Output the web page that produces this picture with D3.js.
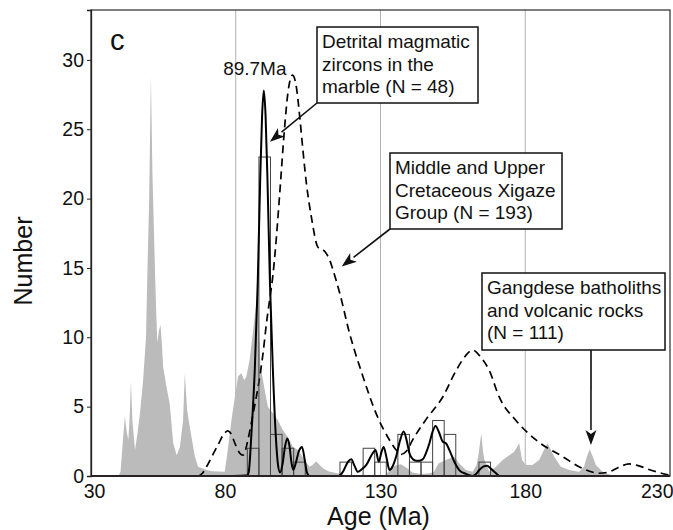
<!DOCTYPE html>
<html>
<head>
<meta charset="utf-8">
<script src="https://cdn.jsdelivr.net/npm/d3@7/dist/d3.min.js"></script>
<style>
  html, body { margin: 0; padding: 0; background: #fff; }
  svg { display: block; font-family: "Liberation Sans", Arial, sans-serif; }
</style>
</head>
<body>
<svg id="chart" width="673" height="530"></svg>
<script>
// Axis ticks
const xTicks = [30, 80, 130, 180, 230];
const yTicks = [0, 5, 10, 15, 20, 25, 30];
const gridAges = [80, 130, 180];

// Histogram of detrital magmatic zircon ages (4 Ma bins)
const binWidth = 4;
const binStarts = [84, 88, 92, 96, 100, 116, 124, 128, 136, 140, 144, 148, 152, 164];
const binCounts = [2, 23, 3, 2, 1, 1, 2, 1, 3, 1, 1, 4, 3, 1];

// Probability curve of the marble zircons: [age, value]
const marbleCurve = [
  [79, 0], [84, 0.05], [84.5, 0.3], [85.4, 3.0], [86.6, 7.8], [87.6, 14], [88.4, 21], [89.1, 26],
  [89.7, 27.8], [90.3, 26], [91.0, 21], [91.8, 14], [92.8, 7.8], [93.8, 3], [94.6, 0.8], [95.3, 0.25],
  [96.2, 0.9], [97, 2.1], [97.8, 2.7], [98.6, 2.1], [99.3, 0.9], [99.9, 0.45], [100.7, 0.9],
  [101.8, 1.8], [102.9, 2.1], [103.8, 1.2], [104.6, 0.25], [105.5, 0], [115.5, 0], [117, 0.3],
  [118.7, 1.0], [119.9, 1.2], [121, 0.75], [122.2, 0.3], [123.6, 0.5], [125.1, 0.8], [127.3, 1.64],
  [128.3, 1.87], [129.4, 1.03], [130.3, 1.7], [131.1, 2.1], [132.1, 1.3], [133.1, 0.43], [134.2, 0.7],
  [135.4, 1.4], [136.8, 2.6], [138, 3.2], [139, 2.6], [140, 1.64], [141.2, 1.2], [142.3, 1.1],
  [143.5, 1.1], [144.6, 1.2], [145.8, 1.7], [146.9, 2.36], [148, 3.2], [149, 3.6], [150.3, 3.1],
  [151.5, 2.47], [152.6, 2.36], [153.8, 1.87], [155.5, 1.03], [157.2, 0.43], [159.5, 0.15],
  [161.8, 0], [163, 0.15], [164.1, 0.43], [165.5, 0.68], [166.8, 0.74], [168, 0.55], [169.3, 0.3],
  [171, 0]
];

// Xigaze Group probability curve: [age, value]
const xigazeCurve = [
  [40, 0], [67, 0], [68.5, 0.2], [70, 0.7], [72, 1.5], [74, 2.3], [75.8, 3.0], [77.3, 3.25],
  [78.5, 3.0], [79.7, 2.36], [81.4, 1.64], [82.5, 1.5], [83.4, 1.9], [84.2, 2.6], [86, 4.5],
  [87.7, 6.4], [89.4, 8.8], [90.6, 11.0], [91.7, 12.7], [92.9, 14.6], [93.8, 16.6], [95.2, 20.4],
  [96.9, 25.2], [98, 27.6], [99.6, 28.9], [100.9, 28.1], [102.1, 25.9], [103.2, 23.5], [104.4, 21.1],
  [106.1, 18.7], [108.4, 16.5], [110.7, 16.2], [112.4, 15.6], [113.6, 14.85], [115.9, 13.2],
  [119.3, 10.3], [123.9, 7.2], [128.5, 4.5], [133.1, 2.6], [135.4, 1.87], [137, 1.55], [139, 1.8],
  [141.1, 2.6], [145.8, 4.1], [151.5, 5.7], [156.1, 7.6], [159.5, 8.7], [161.8, 9.08], [164.5, 8.6],
  [167.6, 7.6], [171, 5.7], [176.8, 4.0], [183.7, 2.6], [192.9, 1.4], [199.8, 0.55], [205.5, 0.2],
  [209, 0.3], [212, 0.6], [215.9, 0.87], [219, 0.75], [223, 0.45], [230, 0.05]
];

// Gangdese batholiths and volcanic rocks: [age, value]
const gangdeseCurve = [
  [39.5, 0], [40.2, 0.3], [41, 2.5], [41.7, 4.3], [42.3, 3.2], [42.9, 2.6], [43.4, 4.5], [43.8, 6.8],
  [44.3, 4.0], [45.2, 1.87], [46, 3.0], [46.9, 4.5], [48, 6.9], [49, 10.0], [49.5, 14.8], [50.1, 20],
  [50.7, 28.8], [51.2, 22], [52.1, 14.8], [52.5, 12], [52.9, 9.6], [53.5, 10.5], [54.0, 10.9],
  [54.5, 9.5], [54.9, 7.9], [56.1, 6.4], [57.2, 5.2], [58.4, 2.36], [59.6, 1.5], [60.7, 2.1],
  [61.8, 4.0], [62.4, 7.4], [63.2, 4.76], [64.1, 3.55], [65.9, 1.39], [67, 0.67], [69.9, 0.43],
  [72, 0.35], [76.2, 0.3], [77, 1.5], [78.5, 4.0], [79.7, 5.7], [80.8, 7.2], [82, 7.4], [82.9, 6.9],
  [83.7, 7.2], [84.8, 8.4], [86, 10.5], [87.1, 12.45], [87.7, 12.5], [88.5, 8], [90, 6.2],
  [91.1, 5.0], [92.9, 4.5], [94.6, 4.0], [96.3, 3.3], [98, 2.8], [99.8, 2.1], [101.5, 1.87],
  [103.8, 1.15], [105.5, 0.67], [106.5, 0.8], [107.8, 1.05], [109, 0.8], [110.1, 0.55], [112, 0.35],
  [115, 0.2], [118, 0.05], [120, 0], [131.5, 0], [133, 0.4], [135, 0.75], [137, 0.85], [139, 0.6],
  [141, 0.25], [144, 0.15], [147, 0.2], [148.5, 0.3], [150, 0.9], [152, 1.1], [155.5, 1.4],
  [157.2, 0.9], [159.5, 0.43], [161.8, 0.3], [163.2, 0.8], [163.9, 1.6], [164.8, 3.08], [165.4, 1.8],
  [165.9, 1.15], [167.6, 0.3], [169.9, 0.67], [172.2, 1.15], [174.5, 1.5], [176.2, 1.75],
  [177.9, 2.36], [178.9, 1.15], [180.2, 0.8], [182.5, 0.8], [184.8, 1.15], [186.5, 1.9],
  [187.7, 2.36], [190, 1.39], [192.3, 0.67], [195.2, 0.43], [198.6, 0.3], [200.3, 0.67],
  [201.3, 1.4], [202.3, 1.92], [203.3, 1.4], [204.4, 0.8], [206.7, 0.3], [209, 0.1], [211.3, 0]
];

const peakAge = 89.7;
const peakValue = 27.8;

const svg = d3.select("#chart");
const plot = { left: 91, top: 10, right: 670, bottom: 476 };

const x = d3.scaleLinear().domain([30, 230]).range([plot.left, plot.right]);
const y = d3.scaleLinear().domain([0, 33.6]).range([plot.bottom, plot.top]);

// Vertical grid lines
svg.append("g")
  .selectAll("line")
  .data(gridAges)
  .join("line")
  .attr("x1", d => x(d)).attr("x2", d => x(d))
  .attr("y1", plot.top).attr("y2", plot.bottom)
  .attr("stroke", "#b0b0b0").attr("stroke-width", 1);

// Gangdese age distribution (filled)
svg.append("path")
  .datum(gangdeseCurve)
  .attr("fill", "#bbbbbb")
  .attr("d", d3.area().x(d => x(d[0])).y0(y(0)).y1(d => y(d[1])).curve(d3.curveLinear));

// Xigaze Group curve (dashed)
svg.append("path")
  .datum(xigazeCurve)
  .attr("fill", "none")
  .attr("stroke", "#000")
  .attr("stroke-width", 1.7)
  .attr("stroke-dasharray", "8,5")
  .attr("d", d3.line().x(d => x(d[0])).y(d => y(d[1])).curve(d3.curveMonotoneX));

// Histogram bars
const bins = binStarts.map((s, i) => ({ start: s, count: binCounts[i] }));
svg.append("g")
  .selectAll("rect")
  .data(bins)
  .join("rect")
  .attr("x", d => x(d.start))
  .attr("width", d => x(d.start + binWidth) - x(d.start))
  .attr("y", d => y(d.count))
  .attr("height", d => y(0) - y(d.count))
  .attr("fill", "none")
  .attr("stroke", "#444")
  .attr("stroke-width", 1);

// Marble zircon probability curve
svg.append("path")
  .datum(marbleCurve)
  .attr("fill", "none")
  .attr("stroke", "#000")
  .attr("stroke-width", 2)
  .attr("stroke-linejoin", "round")
  .attr("d", d3.line().x(d => x(d[0])).y(d => y(d[1])).curve(d3.curveMonotoneX));

// Frame
svg.append("rect")
  .attr("x", plot.left).attr("y", plot.top)
  .attr("width", plot.right - plot.left).attr("height", plot.bottom - plot.top)
  .attr("fill", "none").attr("stroke", "#3a3a3a").attr("stroke-width", 1.3);
svg.append("line")
  .attr("x1", plot.left).attr("x2", plot.right)
  .attr("y1", plot.bottom).attr("y2", plot.bottom)
  .attr("stroke", "#2a2222").attr("stroke-width", 2);

// Y axis
const yAxis = svg.append("g")
  .attr("transform", `translate(${plot.left},0)`)
  .call(d3.axisLeft(y).tickValues(yTicks).tickSize(4).tickPadding(3));
yAxis.select(".domain").attr("stroke", "#222").attr("stroke-width", 1.3);
yAxis.selectAll(".tick line").attr("stroke", "#222");
yAxis.selectAll(".tick text")
  .attr("font-size", "19.5px").attr("fill", "#111")
  .attr("font-family", "'Liberation Sans', Arial, sans-serif");

// X axis labels
const endAnchored = new Set([80, 230]);
const xAxis = svg.append("g")
  .attr("transform", `translate(0,${plot.bottom})`)
  .call(d3.axisBottom(x).tickValues(xTicks).tickSize(0).tickPadding(8));
xAxis.select(".domain").remove();
xAxis.selectAll(".tick text")
  .attr("font-size", "19.5px").attr("fill", "#111")
  .attr("font-family", "'Liberation Sans', Arial, sans-serif")
  .attr("text-anchor", d => endAnchored.has(d) ? "end" : "middle")
  .attr("dx", d => d === 30 ? 3 : (d === 230 ? 3 : 0));

// Axis titles
svg.append("text")
  .attr("x", (plot.left + plot.right) / 2 - 2).attr("y", 525)
  .attr("text-anchor", "middle").attr("font-size", "25px").attr("fill", "#111")
  .text("Age (Ma)");
svg.append("text")
  .attr("transform", `translate(32,${(plot.top + plot.bottom) / 2 + 18}) rotate(-90)`)
  .attr("text-anchor", "middle").attr("font-size", "25px").attr("fill", "#111")
  .text("Number");

// Panel letter
svg.append("text")
  .attr("x", 110).attr("y", 50)
  .attr("font-size", "29px").attr("fill", "#111")
  .text("c");

// Peak label
svg.append("text")
  .attr("x", x(peakAge) - 9).attr("y", y(peakValue) - 15)
  .attr("text-anchor", "middle").attr("font-size", "19px").attr("fill", "#111")
  .text(peakAge + "Ma");

// Annotation boxes with arrows pointing into the data
const notes = [
  { box: [317, 27, 161, 76], lines: ["Detrital magmatic", "zircons in the", "marble (N = 48)"],
    from: [317, 103], tip: [91.8, 24.1] },
  { box: [390, 153, 172, 76], lines: ["Middle and Upper", "Cretaceous Xigaze", "Group (N = 193)"],
    from: [390, 229], tip: [116.6, 15.1] },
  { box: [482, 273, 183, 77], lines: ["Gangdese batholiths", "and volcanic rocks", "(N = 111)"],
    from: [591, 350], tip: [202.7, 2.24] }
];

const ann = svg.append("g");
notes.forEach(n => {
  const [bx, by, bw, bh] = n.box;
  ann.append("rect")
    .attr("x", bx).attr("y", by).attr("width", bw).attr("height", bh)
    .attr("fill", "#fff").attr("stroke", "#111").attr("stroke-width", 1.5);
  n.lines.forEach((t, i) => {
    ann.append("text")
      .attr("x", bx + 5).attr("y", by + 21 + i * 22.5)
      .attr("font-size", "19px").attr("fill", "#111")
      .text(t);
  });
  const tx = x(n.tip[0]), ty = y(n.tip[1]);
  const [fx, fy] = n.from;
  const ang = Math.atan2(ty - fy, tx - fx);
  const len = 15, half = 5.5;
  const bxp = tx - len * Math.cos(ang), byp = ty - len * Math.sin(ang);
  ann.append("line")
    .attr("x1", fx).attr("y1", fy).attr("x2", bxp).attr("y2", byp)
    .attr("stroke", "#111").attr("stroke-width", 1.6);
  const px = -Math.sin(ang), py = Math.cos(ang);
  ann.append("path")
    .attr("d", `M${tx},${ty}L${bxp + half * px},${byp + half * py}L${bxp + 4 * Math.cos(ang)},${byp + 4 * Math.sin(ang)}L${bxp - half * px},${byp - half * py}Z`)
    .attr("fill", "#111");
});
</script>
</body>
</html>
